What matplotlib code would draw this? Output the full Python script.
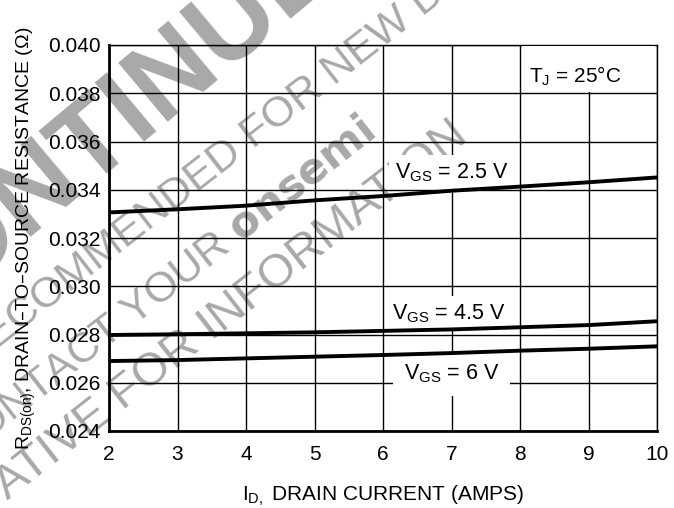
import matplotlib
matplotlib.use("Agg")
from matplotlib import pyplot as plt
from matplotlib.patches import Rectangle

# drain current (A) sampled at the grid lines
current = [2, 3, 4, 5, 6, 7, 8, 9, 10]
r_vgs_2_5 = [0.03306, 0.03319, 0.03334, 0.03356, 0.03374, 0.03396, 0.03413, 0.03431, 0.03451]
r_vgs_4_5 = [0.02798, 0.02801, 0.02805, 0.02809, 0.02815, 0.02821, 0.02830, 0.02839, 0.02855]
r_vgs_6 = [0.02690, 0.02694, 0.02701, 0.02708, 0.02715, 0.02723, 0.02733, 0.02741, 0.02751]

x_ticks = [2, 3, 4, 5, 6, 7, 8, 9, 10]
y_ticks = [0.024, 0.026, 0.028, 0.030, 0.032, 0.034, 0.036, 0.038, 0.040]

plt.rcParams['font.family'] = ['Liberation Sans', 'DejaVu Sans']
plt.rcParams['mathtext.default'] = 'regular'

fig = plt.figure(figsize=(6.74, 5.08), dpi=100)
ax = fig.add_axes([109 / 674, 1 - 431 / 508, 548 / 674, 386 / 508])
ax.patch.set_alpha(0)

# watermark, drawn under the chart
wm = '#a8a8a8'
fig.text(60 / 674, 1 - 168 / 508, 'DISCONTINUED', fontsize=80, fontweight='bold',
         color=wm, rotation=40, ha='center', va='center', zorder=-1)
fig.text(215 / 674, 1 - 165 / 508, 'NOT RECOMMENDED FOR NEW DESIGN', fontsize=31,
         color=wm, rotation=38, ha='center', va='center', zorder=-1)
fig.text(162 / 674, 1 - 290 / 508, 'CONTACT YOUR $\\mathbf{onsemi}$', fontsize=31,
         color=wm, rotation=38, ha='center', va='center', zorder=-1)
fig.text(470 / 674, 1 - 140 / 508, 'REPRESENTATIVE FOR INFORMATION', fontsize=34,
         color=wm, rotation=38, ha='right', va='baseline', rotation_mode='anchor',
         zorder=-1)

ax.plot(current, r_vgs_2_5, color='black', lw=2.8, zorder=4)
ax.plot(current, r_vgs_4_5, color='black', lw=2.8, zorder=4)
ax.plot(current, r_vgs_6, color='black', lw=2.8, zorder=4)

ax.set_xlim(2, 10)
ax.set_ylim(0.024, 0.040)
ax.set_xticks(x_ticks)
ax.set_yticks(y_ticks)
ax.set_yticklabels(['%.3f' % v for v in y_ticks])
ax.grid(True, color='black', lw=1.0, zorder=1)
ax.set_axisbelow(True)
ax.tick_params(length=0, labelsize=15)
ax.tick_params(axis='x', pad=10)
ax.tick_params(axis='y', pad=6)
for side in ['top', 'right']:
    ax.spines[side].set_linewidth(1.0)
for side in ['left', 'bottom']:
    ax.spines[side].set_linewidth(2.0)

# white cell behind the temperature note
ax.add_patch(Rectangle((8.03, 0.03806), 1.94, 0.00188, facecolor='white',
                       edgecolor='none', zorder=3.5))
ax.text(8.81, 0.03869, 'T$_J$ = 25°C', fontsize=15, ha='center', va='center', zorder=5)

box = dict(facecolor='white', edgecolor='none', pad=4)
ax.text(7.0, 0.03472, 'V$_{GS}$ = 2.5 V', fontsize=15.5, ha='center', va='center',
        bbox=box, zorder=3)
ax.text(6.96, 0.02888, 'V$_{GS}$ = 4.5 V', fontsize=15.5, ha='center', va='center',
        bbox=box, zorder=3)
ax.text(7.0, 0.02639, 'V$_{GS}$ = 6 V', fontsize=15.5, ha='center', va='center',
        bbox=dict(facecolor='white', edgecolor='none', pad=8), zorder=3)

ax.set_xlabel('I$_{D,}$ DRAIN CURRENT (AMPS)', fontsize=15, labelpad=14)
ax.set_ylabel('R$_{DS(on)}$, DRAIN\u2013TO\u2013SOURCE RESISTANCE (\u03a9)', fontsize=14,
              labelpad=7)

fig.savefig('out.png', dpi=100)
